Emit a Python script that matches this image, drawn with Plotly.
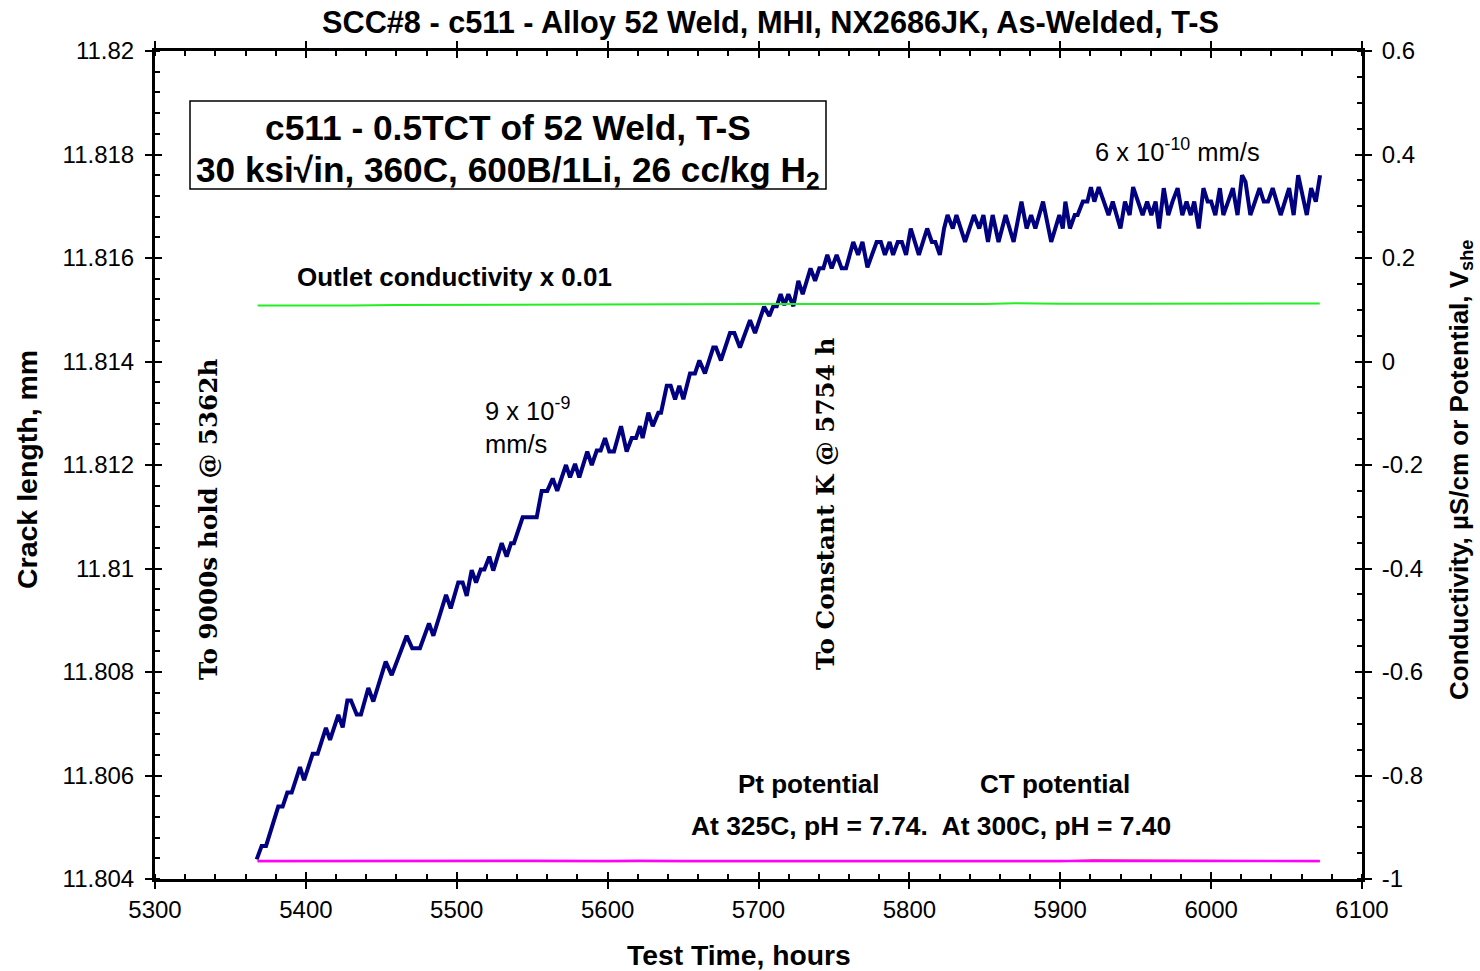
import plotly.graph_objects as go

# ---------------- data ----------------
time_h = [5367.4, 5370.7, 5373.6, 5381.7, 5384.6, 5387.7, 5390.6, 5396.1, 5398.8, 5404.5,
          5407.8, 5413.3, 5416.0, 5421.5, 5424.4, 5427.5, 5429.9, 5433.7, 5436.5, 5441.4,
          5444.7, 5452.9, 5456.9, 5466.8, 5470.5, 5475.6, 5481.6, 5484.5, 5492.9, 5496.0,
          5501.0, 5503.9, 5506.6, 5509.9, 5512.8, 5515.9, 5518.3, 5521.6, 5524.2, 5529.8,
          5533.1, 5536.0, 5537.9, 5543.7, 5553.0, 5556.3, 5560.0, 5563.6, 5566.6, 5572.4,
          5575.1, 5578.4, 5581.2, 5586.5, 5589.5, 5592.8, 5595.4, 5598.3, 5601.1, 5604.2,
          5608.9, 5612.6, 5616.0, 5618.8, 5621.5, 5623.2, 5627.0, 5629.9, 5633.6, 5635.4,
          5639.2, 5641.8, 5644.7, 5647.5, 5650.2, 5654.6, 5657.9, 5660.8, 5664.5, 5670.0,
          5671.8, 5675.1, 5681.1, 5684.0, 5687.7, 5694.4, 5697.7, 5703.7, 5707.2, 5709.8,
          5712.1, 5714.7, 5717.1, 5719.8, 5723.1, 5726.4, 5729.3, 5734.5, 5737.5, 5740.3,
          5743.0, 5745.6, 5748.5, 5751.8, 5755.1, 5758.0, 5762.8, 5766.0, 5768.9, 5772.2,
          5778.3, 5781.1, 5783.8, 5786.9, 5789.2, 5792.3, 5795.0, 5797.8, 5800.9, 5806.3,
          5811.8, 5814.9, 5817.2, 5820.2, 5823.0, 5825.3, 5828.8, 5831.2, 5836.9, 5842.8,
          5846.3, 5849.1, 5852.1, 5855.2, 5859.1, 5863.8, 5869.1, 5874.3, 5877.7, 5880.7,
          5883.5, 5888.6, 5894.0, 5899.4, 5901.7, 5903.4, 5906.4, 5909.6, 5911.5, 5915.0,
          5918.0, 5920.3, 5922.6, 5925.5, 5928.9, 5932.0, 5934.8, 5939.9, 5942.9, 5946.0,
          5948.3, 5951.5, 5954.6, 5957.6, 5960.4, 5963.2, 5965.5, 5968.6, 5971.6, 5974.4,
          5977.8, 5980.9, 5983.7, 5986.5, 5988.8, 5991.8, 5994.9, 5997.7, 6000.0, 6002.8,
          6005.8, 6008.1, 6011.2, 6014.4, 6017.5, 6020.5, 6022.8, 6026.0, 6029.1, 6032.1,
          6034.9, 6037.7, 6040.8, 6046.1, 6051.7, 6054.7, 6057.7, 6063.4, 6066.3, 6069.4,
          6072.2]

crack_mm = [11.80438, 11.80464, 11.80464, 11.80540, 11.80540, 11.80567, 11.80567, 11.80616, 11.80591, 11.80642,
            11.80642, 11.80692, 11.80669, 11.80717, 11.80693, 11.80745, 11.80745, 11.80718, 11.80718, 11.80769,
            11.80743, 11.80820, 11.80794, 11.80870, 11.80846, 11.80846, 11.80894, 11.80870, 11.80949, 11.80923,
            11.80973, 11.80973, 11.80947, 11.80997, 11.80973, 11.80998, 11.80998, 11.81023, 11.80996, 11.81049,
            11.81023, 11.81049, 11.81049, 11.81099, 11.81099, 11.81150, 11.81150, 11.81174, 11.81150, 11.81200,
            11.81176, 11.81202, 11.81176, 11.81226, 11.81200, 11.81228, 11.81228, 11.81252, 11.81226, 11.81226,
            11.81275, 11.81226, 11.81252, 11.81252, 11.81275, 11.81252, 11.81301, 11.81275, 11.81301, 11.81301,
            11.81353, 11.81353, 11.81327, 11.81353, 11.81327, 11.81377, 11.81377, 11.81402, 11.81377, 11.81427,
            11.81427, 11.81402, 11.81455, 11.81455, 11.81427, 11.81480, 11.81455, 11.81506, 11.81488, 11.81507,
            11.81507, 11.81530, 11.81509, 11.81530, 11.81507, 11.81556, 11.81530, 11.81580, 11.81556, 11.81580,
            11.81580, 11.81606, 11.81580, 11.81606, 11.81580, 11.81580, 11.81631, 11.81606, 11.81631, 11.81582,
            11.81631, 11.81631, 11.81606, 11.81631, 11.81606, 11.81631, 11.81631, 11.81606, 11.81657, 11.81606,
            11.81657, 11.81631, 11.81631, 11.81606, 11.81657, 11.81683, 11.81657, 11.81683, 11.81631, 11.81683,
            11.81657, 11.81683, 11.81631, 11.81683, 11.81631, 11.81683, 11.81631, 11.81709, 11.81657, 11.81683,
            11.81657, 11.81709, 11.81631, 11.81683, 11.81657, 11.81709, 11.81657, 11.81683, 11.81683, 11.81709,
            11.81709, 11.81737, 11.81709, 11.81737, 11.81709, 11.81683, 11.81709, 11.81657, 11.81709, 11.81683,
            11.81737, 11.81709, 11.81683, 11.81709, 11.81683, 11.81709, 11.81657, 11.81735, 11.81683, 11.81709,
            11.81735, 11.81683, 11.81709, 11.81683, 11.81709, 11.81657, 11.81735, 11.81709, 11.81709, 11.81683,
            11.81735, 11.81683, 11.81709, 11.81735, 11.81683, 11.81760, 11.81747, 11.81683, 11.81709, 11.81735,
            11.81709, 11.81709, 11.81735, 11.81683, 11.81735, 11.81683, 11.81760, 11.81683, 11.81735, 11.81709,
            11.81760]

cond_time = [5368, 5390, 5410, 5430, 5460, 5500, 5550, 5600, 5650, 5700,
             5750, 5800, 5850, 5870, 5900, 5950, 6000, 6050, 6072]
cond_x001 = [0.108, 0.108, 0.1075, 0.108, 0.109, 0.1095, 0.110, 0.1105, 0.1105, 0.111,
             0.111, 0.111, 0.1112, 0.1125, 0.1115, 0.1118, 0.112, 0.112, 0.112]

pot_time = [5368, 5400, 5420, 5450, 5500, 5550, 5600, 5620, 5650, 5700, 5750,
            5800, 5850, 5880, 5900, 5922, 5948, 5980, 6010, 6040, 6072]
pt_pot = [-0.9652, -0.9650, -0.9645, -0.9652, -0.9650, -0.9648, -0.9650, -0.9645, -0.9652, -0.9650, -0.9650,
          -0.9652, -0.9650, -0.9646, -0.9650, -0.9652, -0.9650, -0.9652, -0.9650, -0.9650, -0.9652]
ct_pot = [-0.9655, -0.9655, -0.9652, -0.9655, -0.9655, -0.9655, -0.9655, -0.9652, -0.9655, -0.9655, -0.9655,
          -0.9655, -0.9655, -0.9652, -0.9655, -0.9640, -0.9642, -0.9655, -0.9655, -0.9655, -0.9655]

x_ticks = [5300, 5400, 5500, 5600, 5700, 5800, 5900, 6000, 6100]
x_ticktext = ["5300", "5400", "5500", "5600", "5700", "5800", "5900", "6000", "6100"]
y_ticks = [11.804, 11.806, 11.808, 11.81, 11.812, 11.814, 11.816, 11.818, 11.82]
y_ticktext = ["11.804", "11.806", "11.808", "11.81", "11.812", "11.814", "11.816", "11.818", "11.82"]
y2_ticks = [-1, -0.8, -0.6, -0.4, -0.2, 0, 0.2, 0.4, 0.6]
y2_ticktext = ["-1", "-0.8", "-0.6", "-0.4", "-0.2", "0", "0.2", "0.4", "0.6"]

# ---------------- figure ----------------
SANS = "Liberation Sans, Arial, sans-serif"
SERIF = "DejaVu Serif, serif"

fig = go.Figure()
fig.add_trace(go.Scatter(x=cond_time, y=cond_x001, mode="lines", xaxis="x", yaxis="y2",
                         line=dict(color="#22ee22", width=2), showlegend=False, hoverinfo="skip"))
fig.add_trace(go.Scatter(x=pot_time, y=ct_pot, mode="lines", xaxis="x", yaxis="y2",
                         line=dict(color="#ff2020", width=2), showlegend=False, hoverinfo="skip"))
fig.add_trace(go.Scatter(x=pot_time, y=pt_pot, mode="lines", xaxis="x", yaxis="y2",
                         line=dict(color="#ff00ff", width=2.5), showlegend=False, hoverinfo="skip"))
fig.add_trace(go.Scatter(x=time_h, y=crack_mm, mode="lines", xaxis="x", yaxis="y",
                         line=dict(color="#000080", width=4), showlegend=False, hoverinfo="skip"))
# dummy traces to make sure the overlay (tick-only) axes are drawn
fig.add_trace(go.Scatter(x=[None], y=[None], xaxis="x2", yaxis="y3", showlegend=False, hoverinfo="skip"))
fig.add_trace(go.Scatter(x=[None], y=[None], xaxis="x", yaxis="y4", showlegend=False, hoverinfo="skip"))

tickfont = dict(family=SANS, size=24, color="black")
XR = [5300, 6100]
YR = [11.804, 11.82]
Y2R = [-1, 0.6]

fig.update_layout(
    width=1480, height=971,
    margin=dict(l=155, r=118, t=51, b=92),
    paper_bgcolor="white", plot_bgcolor="white",
    showlegend=False,
    xaxis=dict(range=XR, tickvals=x_ticks, ticktext=x_ticktext, ticks="outside", ticklen=7,
               tickwidth=2, tickcolor="black", showline=True, linewidth=3, linecolor="black",
               mirror="ticks", showgrid=False, zeroline=False, tickfont=tickfont,
               minor=dict(dtick=20, ticks="inside", ticklen=5, tickwidth=1.5, tickcolor="black", showgrid=False)),
    xaxis2=dict(range=XR, overlaying="x", anchor="y", side="bottom", tickvals=x_ticks,
                ticks="inside", ticklen=7, tickwidth=2, tickcolor="black", showticklabels=False,
                showline=False, mirror="ticks", showgrid=False, zeroline=False),
    yaxis=dict(range=YR, tickvals=y_ticks, ticktext=y_ticktext, ticks="outside", ticklen=7,
               tickwidth=2, tickcolor="black", showline=True, linewidth=3, linecolor="black",
               showgrid=False, zeroline=False, tickfont=tickfont, ticklabelstandoff=6,
               minor=dict(dtick=0.0004, tick0=11.804, ticks="inside", ticklen=5, tickwidth=1.5,
                          tickcolor="black", showgrid=False)),
    yaxis3=dict(range=YR, overlaying="y", anchor="x", side="left", tickvals=y_ticks,
                ticks="inside", ticklen=7, tickwidth=2, tickcolor="black", showticklabels=False,
                showline=False, showgrid=False, zeroline=False),
    yaxis2=dict(range=Y2R, overlaying="y", anchor="x", side="right", tickvals=y2_ticks,
                ticktext=y2_ticktext, ticks="outside", ticklen=7, tickwidth=2, tickcolor="black",
                showline=True, linewidth=3, linecolor="black", showgrid=False, zeroline=False,
                tickfont=tickfont, ticklabelstandoff=5,
                minor=dict(dtick=0.05, tick0=-1, ticks="inside", ticklen=5, tickwidth=1.5,
                           tickcolor="black", showgrid=False)),
    yaxis4=dict(range=Y2R, overlaying="y", anchor="x", side="right", tickvals=y2_ticks,
                ticks="inside", ticklen=7, tickwidth=2, tickcolor="black", showticklabels=False,
                showline=False, showgrid=False, zeroline=False),
)

W, L = 1207.0, 155.0
H, B = 828.0, 879.0
def px(xp):
    return (xp - L) / W
def py(yp):
    return (B - yp) / H

def ann(text, x, y, size, bold=True, family=SANS, xanchor="center", yanchor="middle",
        angle=0, align="center"):
    t = "<b>" + text + "</b>" if bold else text
    fig.add_annotation(text=t, x=x, y=y, xref="paper", yref="paper", showarrow=False,
                       xanchor=xanchor, yanchor=yanchor, textangle=angle, align=align,
                       font=dict(family=family, size=size, color="black"))

# title & axis titles
ann("SCC#8 - c511 - Alloy 52 Weld, MHI, NX2686JK, As-Welded, T-S", px(770), py(22), 30.7)
ann("Test Time, hours", px(739), py(955), 28.3)
ann("Crack length, mm", px(27), py(470), 28.5, angle=-90)
ann("Conductivity, µS/cm or Potential, V<sub>she</sub>", px(1460), py(470), 26, angle=-90)

# boxed label
fig.add_shape(type="rect", xref="paper", yref="paper", x0=px(190), x1=px(826), y0=py(189), y1=py(101),
              line=dict(color="black", width=1.5), fillcolor="white", layer="below")
ann("c511 - 0.5TCT of 52 Weld, T-S", px(508), py(128), 35.3)
ann("30 ksi√in, 360C, 600B/1Li, 26 cc/kg H<sub>2</sub>", px(508), py(172), 35.2)

# in-plot labels
ann("Outlet conductivity x 0.01", px(295), py(277), 26, xanchor="left")
ann("9 x 10<sup>-9</sup><br>mm/s", px(483), py(425), 25.5, bold=False, xanchor="left", align="left")
ann("6 x 10<sup>-10</sup> mm/s", px(1093), py(150), 25.5, bold=False, xanchor="left")
ann("Pt potential", px(809), py(784), 26)
ann("CT potential", px(1055), py(784), 26)
ann("At 325C, pH = 7.74.\u00a0 At 300C, pH = 7.40", px(930.5), py(826), 26.4)

# vertical event labels
ann("To 9000s hold @ 5362h", px(208), py(520), 24.7, family=SERIF, angle=-90)
ann("To Constant K @ 5754 h", px(825), py(504), 24.7, family=SERIF, angle=-90)

fig.write_html("out.html")
